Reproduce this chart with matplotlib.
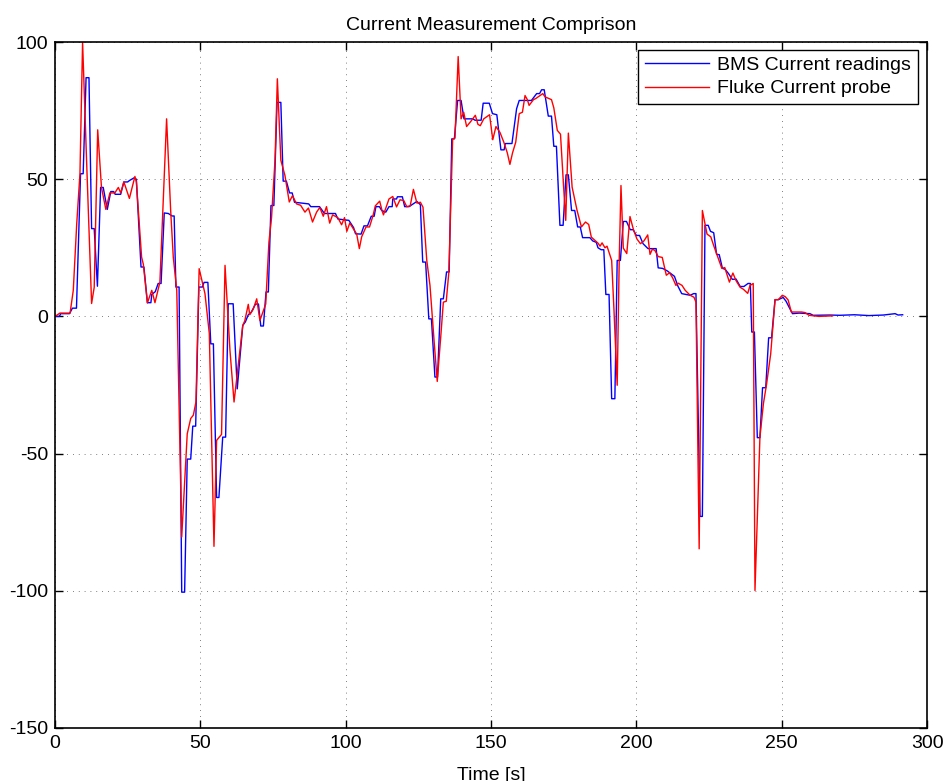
import numpy as np
import matplotlib
matplotlib.use("Agg")
import matplotlib.pyplot as plt

plt.rcParams["font.family"] = ["Liberation Sans", "DejaVu Sans"]
plt.rcParams["axes.unicode_minus"] = False

# BMS current readings (sample-and-hold, so each level is listed at start and end)
bms_t = [0, 1.5, 2, 5, 6, 7.4, 8.8, 9.7, 10.7, 11.7, 12.6, 13.5, 14.6, 15.7, 16.6,
         18, 19.2, 20.2, 20.7, 22.6, 23.7, 25, 25.6, 27.2, 28, 29.6, 30.6, 31.8, 33,
         33.3, 34.5, 35.5, 36.5, 37.6, 39, 40.3, 41, 41.6, 42.7, 43.6, 44.6, 45.5,
         46.7, 47.4, 48.4, 49.5, 50.7, 51.3, 52.6, 53.6, 54.5, 55.6, 56.4, 57.7,
         58.7, 59.6, 61.3, 62.7, 64.6, 65.5, 66.5, 67.5, 69, 70, 70.8, 71.7, 72.6,
         73.4, 74.3, 75.3, 76.4, 77.7, 78.5, 79.6, 80.7, 81.6, 82.4, 87.3, 88, 91,
         92.7, 96.5, 97.3, 101.1, 102.7, 103.4, 105.3, 106.3, 107.5, 108.8, 109.8,
         110.4, 111.6, 112.4, 113.8, 114.9, 116, 116.2, 117.5, 117.8, 119.5, 120.3,
         121.8, 124.5, 125.7, 126.5, 127.5, 128.6, 129.5, 130.7, 131.6, 132.7,
         133.6, 134.7, 135.6, 136.5, 137.4, 138.5, 139.7, 140.7, 143.7, 144.5,
         146.6, 147.3, 149.4, 150.5, 152, 153.4, 154.5, 154.9, 157.2, 158.8, 159.7,
         163.9, 165.7, 166.7, 167.4, 168.3, 169.7, 170.8, 171.6, 172.5, 173.7,
         174.8, 175.8, 176.6, 177.7, 178.8, 179.8, 180.7, 181.5, 184, 185, 186.2,
         186.8, 187.9, 188.8, 189.5, 190.6, 191.5, 192.6, 193.4, 194.5, 195.5,
         196.6, 197.9, 198.9, 200, 201.1, 202.3, 204, 206.8, 207.5, 209, 210.6, 212,
         213.1, 214.3, 215.6, 218.5, 219.7, 220.5, 221.9, 222.7, 223.6, 224.7,
         225.5, 226.6, 227.6, 228.5, 229.6, 230.5, 231.7, 233, 234.3, 235.7, 237,
         238.4, 239.2, 239.7, 240.6, 241.6, 242.5, 243.4, 244.5, 245.5, 246.5,
         247.7, 248.8, 250.5, 251.5, 252.6, 253.7, 256, 259.7, 260.8, 266.5, 270,
         275, 280, 285, 289, 290, 291.6]
bms_i = [0, 0, 1, 1, 3, 3, 52, 52, 87, 87, 32, 32, 11, 47, 47,
         39, 45.5, 45.5, 44.5, 44.5, 49, 49, 49.5, 50.5, 50, 18, 18, 5, 5,
         8, 9, 12, 12, 37.7, 37.5, 36.6, 36.6, 10.7, 10.7, -100.5, -100.5, -52,
         -52, -40, -40, 10.7, 10.7, 12.4, 12.4, -10, -10, -66, -66, -44,
         -44, 4.6, 4.6, -26.4, -3.3, -2, 0.6, 1.5, 4.5, 4.5, -3.5, -3.5, 8.9,
         8.9, 40.4, 40.4, 78, 78, 49.3, 49.3, 45, 45, 41.6, 41, 40, 40,
         37.5, 37.5, 35.5, 35, 32.4, 30.1, 30, 33, 33, 36.5, 36.5,
         40, 40, 38.6, 38, 40, 40, 42.8, 42.8, 43.6, 43.6, 40,
         40, 41.9, 40.7, 19.8, 19.8, -0.9, -0.9, -22.1, -22.1, 6.4,
         6.4, 16.2, 16.2, 64.7, 64.7, 78.7, 78.7, 72, 72, 71.5,
         71.5, 77.7, 77.7, 73.9, 73.5, 60.7, 60.7, 63, 63, 75.7, 78.7,
         78.7, 81.2, 81.2, 82.6, 82.6, 73, 73, 62, 62, 33.2,
         33.2, 51.6, 51.6, 38.6, 38.6, 32.6, 32.6, 28.7, 28.7, 27.5, 27,
         25, 24.3, 24.3, 8, 8, -30, -30, 20.4, 20.4, 34.6,
         34.6, 31.6, 31.6, 29.5, 29.5, 26.5, 24.7, 24.7, 17.7, 17.5, 16.6, 15.5,
         14.6, 11, 8.3, 7.7, 8.3, 8.3, -72.9, -72.9, 33.2, 33.2,
         31, 30.5, 22.6, 22.5, 17.5, 17.2, 15.6, 13.5, 13.6, 10.9, 10.9,
         12, 12, -5.7, -5.7, -44.2, -44.2, -26, -26, -7.8, -7.8,
         6.1, 6.1, 6.9, 5.5, 3.2, 1, 1.2, 1, 0.4, 0.5, 0.4,
         0.6, 0.3, 0.5, 1, 0.5, 0.6]

# Fluke current probe readings
fluke_t = [0, 1.7, 5.2, 6.3, 7.5, 8.6, 9.5, 10.9, 12.6, 13.5, 14.7, 16, 17.5, 18.9,
           20.6, 21.8, 22.6, 23.7, 25.6, 27.5, 28, 29.8, 30.4, 31.8, 33.3, 34.4,
           36.1, 38.4, 39.8, 40.7, 41.9, 43.6, 44.7, 45.5, 46.7, 47.6, 48.5, 49.6,
           51.6, 53.1, 54.7, 55.6, 57.3, 58.5, 60.2, 61.6, 63.1, 64.6, 65.3, 66.5,
           67, 68.2, 69.4, 70.5, 72.5, 73.6, 74.5, 75.7, 76.5, 77.7, 79.1, 80.6,
           81.7, 83.1, 84.5, 86, 87.2, 88.6, 90, 91.1, 92.3, 93.4, 94.5, 95.5, 97.3,
           98.6, 99.6, 100.4, 101.4, 102.6, 103.8, 104.7, 105.5, 107, 108.2, 109.4,
           110.2, 111.7, 112.5, 113, 114.9, 116.2, 117.5, 118.7, 120, 121, 122.2,
           123.3, 124.5, 125.7, 126.6, 127.9, 129, 130.4, 131.5, 132.7, 133.6,
           134.6, 135.5, 136.8, 137.6, 138.7, 139.7, 140.6, 141.6, 143, 144.6,
           145.5, 146.3, 147.5, 149.5, 150.6, 151.7, 153.1, 154.4, 155.6, 156.5,
           157.4, 158.5, 159.7, 160.8, 161.7, 162.5, 163.1, 164.6, 165.4, 167.8,
           168.6, 170.8, 171.6, 172.8, 173.9, 174.9, 175.7, 176.6, 177.9, 179.6,
           181.1, 182.5, 183.6, 184.5, 186.8, 187.5, 188.2, 189.2, 189.9, 191.5,
           192.3, 193.4, 194.1, 194.7, 195.5, 196.7, 197.8, 199, 200.2, 201.4,
           202.6, 203.9, 204.7, 205.5, 206.4, 207.5, 208.9, 210.3, 211.4, 212.5,
           213.6, 214.4, 215.7, 216.8, 218.5, 219.8, 220.5, 221.6, 222.7, 224.3,
           225.6, 226.7, 227.9, 229.4, 230.4, 232, 233.2, 234.3, 235.7, 236.8,
           238.3, 239.1, 240.2, 240.8, 242.5, 243.7, 244.8, 246.2, 247.7, 248.8,
           250.2, 251.2, 252.2, 253.3, 255, 256.8, 258, 259.4, 262.8, 267.5]
fluke_i = [0, 1.2, 1.2, 9.5, 34, 52, 100, 56, 4.7, 10.6, 68, 47, 39, 45,
           45, 47, 45, 49, 43, 51, 49, 21.6, 19, 4.9, 9.5, 5,
           12.5, 72, 38.6, 21.6, 9.5, -80.4, -58.6, -42.8, -37.2, -36, -31.2, 17.4,
           8.3, -6.3, -83.8, -45.2, -43, 18.6, -12.4, -31.2, -17.2, -3.3, -1.6, 4.4,
           0.6, 2.6, 6.4, -1.5, 4.5, 27, 36, 57, 86.6, 56.9, 51.4, 41.7,
           44, 41, 40.5, 38, 39.5, 34.4, 38, 39.7, 36.5, 40, 34, 37, 36,
           33.4, 36, 31, 34, 32, 30, 24.7, 29, 32.6, 32.6, 36.7,
           40.3, 42, 38.6, 37, 42.8, 43.7, 39.9, 42.5, 42.2, 40, 40.3,
           46.3, 41.3, 41.6, 39.8, 20.4, 11.3, -8.7, -23.7, -7.5, 5.2,
           5.5, 16.2, 64.7, 65, 94.7, 72, 74.4, 69.2, 71, 73.3,
           70, 69.5, 72, 73.5, 64.4, 69.2, 67, 63.5, 59.6, 55.4,
           59.6, 63.5, 73.9, 74.4, 80.5, 79, 76.9, 79, 79.4, 81.2,
           80, 79, 76, 67.8, 66.4, 48.4, 35, 66.8, 47.1, 38.6,
           32.6, 34.4, 33.5, 28.9, 26.7, 25.6, 26.8, 25, 25.6, 20.4,
           2.2, -25.1, 20.4, 47.7, 24.9, 22.9, 36.4, 31.6, 28.2, 26.5,
           27.5, 29.7, 22.6, 24.5, 24, 21.8, 21.5, 15, 15.9, 14,
           11.3, 12.1, 11.3, 9.5, 7.7, 7, 5.2, -84.7, 38.6, 30,
           29, 25.5, 21.9, 17.5, 17.8, 12.5, 15.8, 13, 10.6, 9.9,
           8.4, 11.3, 12, -99.9, -44, -31.8, -24.6, -13.7, 6.1, 6.1,
           7.7, 7.2, 6, 1.6, 1.6, 1.6, 1.4, 0.4, 0, 0.2]

x_ticks = [0, 50, 100, 150, 200, 250, 300]
y_ticks = [-150, -100, -50, 0, 50, 100]

fig = plt.figure(figsize=(9.46, 7.81), dpi=100)
ax = fig.add_axes([0.0581, 0.0679, 0.9219, 0.8783])

ax.plot(bms_t, bms_i, color="#0000ff", lw=1.0, label="BMS Current readings")
ax.plot(fluke_t, fluke_i, color="#ff0000", lw=1.0, label="Fluke Current probe")

ax.set_xlim(0, 300)
ax.set_ylim(-150, 100)
ax.set_xticks(x_ticks)
ax.set_yticks(y_ticks)
ax.grid(True, linestyle=(0, (1, 6)), color="#555555", linewidth=0.6)
ax.tick_params(direction="in", length=6, width=1.0, top=True, right=True,
               labelsize=14, pad=5)
for s in ax.spines.values():
    s.set_linewidth(1.2)

ax.set_title("Current Measurement Comprison", fontsize=14, pad=9)
ax.set_xlabel("Time [s]", fontsize=14, labelpad=11)

leg = ax.legend(loc="upper right", bbox_to_anchor=(0.9895, 0.989), fontsize=14,
                fancybox=False, framealpha=1, edgecolor="black",
                handlelength=3.3, handletextpad=0.4, borderpad=0.35,
                labelspacing=0.3, borderaxespad=0)
leg.get_frame().set_linewidth(1.0)

fig.savefig("out.png", dpi=100)
